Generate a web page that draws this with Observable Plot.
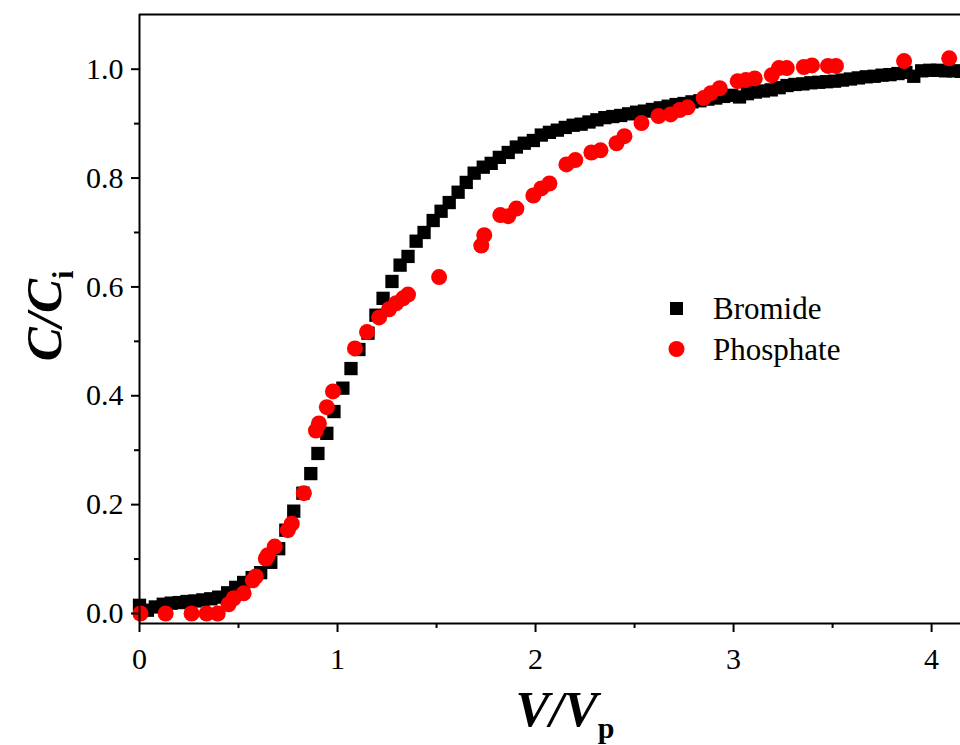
<!DOCTYPE html>
<html><head><meta charset="utf-8">
<script src="https://cdn.jsdelivr.net/npm/d3@7"></script>
<script src="https://cdn.jsdelivr.net/npm/@observablehq/plot@0.6"></script>
<style>
html,body{margin:0;padding:0;background:#fff;}
#chart{width:960px;height:745px;overflow:hidden;}
</style></head><body><div id="chart"></div>
<script>
const seriesNames = ["Bromide", "Phosphate"];
const seriesColors = ["#000000", "#ff0000"];
// [V/Vp, C/Ci]
const bromide = [
[0.00,0.015],[0.04,0.006],[0.08,0.012],[0.12,0.017],[0.16,0.019],[0.20,0.020],[0.24,0.022],[0.28,0.023],
[0.32,0.025],[0.36,0.027],[0.40,0.030],[0.445,0.038],[0.486,0.048],[0.526,0.057],[0.569,0.066],[0.612,0.075],
[0.663,0.094],[0.703,0.119],[0.739,0.153],[0.779,0.188],[0.825,0.221],[0.865,0.257],[0.901,0.294],[0.946,0.331],
[0.982,0.371],[1.027,0.414],[1.068,0.450],[1.108,0.485],[1.154,0.515],[1.194,0.548],[1.230,0.579],[1.275,0.610],
[1.316,0.640],[1.356,0.656],[1.397,0.684],[1.437,0.700],[1.483,0.722],[1.523,0.739],[1.564,0.755],[1.609,0.774],
[1.650,0.792],[1.690,0.809],[1.736,0.820],[1.776,0.827],[1.817,0.838],[1.862,0.847],[1.903,0.857],[1.943,0.864],
[1.989,0.869],[2.029,0.879],[2.070,0.884],[2.11,0.888],[2.15,0.893],[2.19,0.897],[2.23,0.899],[2.27,0.903],
[2.31,0.907],[2.35,0.911],[2.39,0.913],[2.43,0.915],[2.47,0.918],[2.51,0.921],[2.55,0.923],[2.59,0.926],
[2.63,0.929],[2.67,0.932],[2.71,0.935],[2.75,0.937],[2.79,0.940],[2.83,0.942],[2.87,0.945],[2.91,0.947],
[2.95,0.950],[2.99,0.952],[3.03,0.949],[3.07,0.955],[3.11,0.958],[3.15,0.960],[3.19,0.962],[3.23,0.966],
[3.27,0.970],[3.31,0.972],[3.35,0.973],[3.39,0.975],[3.43,0.976],[3.47,0.977],[3.51,0.978],[3.55,0.980],
[3.59,0.982],[3.63,0.984],[3.67,0.986],[3.71,0.987],[3.75,0.989],[3.79,0.990],[3.83,0.992],[3.87,0.994],
[3.91,0.987],[3.95,0.997],[3.99,0.998],[4.03,0.998],[4.07,0.997],[4.11,0.997],[4.15,0.996]
];
const phosphate = [
[0.005,0.000],[0.132,0.000],[0.263,0.000],[0.339,0.000],[0.395,0.000],[0.450,0.017],[0.476,0.028],[0.526,0.037],
[0.572,0.061],[0.587,0.068],[0.638,0.101],[0.648,0.107],[0.683,0.123],[0.749,0.153],[0.769,0.165],[0.830,0.221],
[0.891,0.336],[0.906,0.349],[0.946,0.379],[0.977,0.408],[1.088,0.487],[1.149,0.517],[1.210,0.544],[1.260,0.559],
[1.296,0.570],[1.331,0.579],[1.356,0.586],[1.513,0.618],[1.726,0.676],[1.741,0.695],[1.822,0.732],[1.862,0.730],
[1.903,0.744],[1.989,0.768],[2.029,0.781],[2.070,0.790],[2.156,0.825],[2.201,0.833],[2.282,0.847],[2.328,0.851],
[2.409,0.864],[2.449,0.877],[2.535,0.901],[2.621,0.914],[2.682,0.917],[2.728,0.925],[2.768,0.930],[2.849,0.947],
[2.885,0.956],[2.930,0.965],[3.021,0.978],[3.062,0.980],[3.107,0.983],[3.193,0.989],[3.229,1.002],[3.269,1.002],
[3.355,1.004],[3.396,1.007],[3.477,1.006],[3.517,1.006],[3.861,1.015],[4.089,1.020]
];
const xMajorTicks = [0, 1, 2, 3, 4];
const xMinorTicks = [0.5, 1.5, 2.5, 3.5];
const yMajorTicks = [0, 0.2, 0.4, 0.6, 0.8, 1.0];
const yMinorTicks = [0.1, 0.3, 0.5, 0.7, 0.9];
const xDomain = [0, 4.146];
const yDomain = [-0.0184, 1.1005];

const FONT = '"Liberation Serif","Times New Roman",Times,serif';
const toRows = (arr, s) => arr.map(([x, y]) => ({x, y, series: s}));
const bromideRows = toRows(bromide, seriesNames[0]);
const phosphateRows = toRows(phosphate, seriesNames[1]);

const plot = Plot.plot({
  width: 960, height: 745,
  marginLeft: 139, marginRight: 0, marginTop: 14, marginBottom: 122,
  style: {fontFamily: FONT, background: "white", color: "black", overflow: "hidden"},
  x: {domain: xDomain},
  y: {domain: yDomain},
  marks: [
    Plot.dot(bromideRows, {x: "x", y: "y", symbol: "square", r: 7.5, fill: seriesColors[0]}),
    Plot.dot(phosphateRows, {x: "x", y: "y", symbol: "circle", r: 8, fill: seriesColors[1]}),
    Plot.ruleX([xDomain[0]], {stroke: "black", strokeWidth: 2}),
    Plot.ruleY([yDomain[0]], {stroke: "black", strokeWidth: 2}),
    Plot.ruleY([yDomain[1]], {stroke: "black", strokeWidth: 2}),
    Plot.axisY(yMajorTicks, {tickSize: 8, tickPadding: 8, strokeWidth: 2, tickFormat: d => d.toFixed(1), fontSize: 30, label: null}),
    Plot.axisY(yMinorTicks, {tickSize: 5, strokeWidth: 2, tickFormat: () => "", label: null}),
    Plot.axisX(xMajorTicks, {tickSize: 9, tickPadding: 15, strokeWidth: 2, tickFormat: d => String(d), fontSize: 30, label: null}),
    Plot.axisX(xMinorTicks, {tickSize: 5, strokeWidth: 2, tickFormat: () => "", label: null})
  ]
});
document.getElementById("chart").appendChild(plot);

const svg = d3.select(plot);
// Axis titles
const yt = svg.append("text")
  .attr("transform", "translate(61,316) rotate(-90)")
  .attr("text-anchor", "middle")
  .style("font-family", FONT).style("font-weight", "bold").style("font-size", "51px").attr("fill", "black");
yt.append("tspan").style("font-style", "italic").text("C/C");
yt.append("tspan").attr("dy", 12).style("font-size", "30px").text("i");

const xt = svg.append("text")
  .attr("transform", "translate(565,726)")
  .attr("text-anchor", "middle")
  .style("font-family", FONT).style("font-weight", "bold").style("font-size", "51px").attr("fill", "black");
xt.append("tspan").style("font-style", "italic").text("V/V");
xt.append("tspan").attr("dy", 12).style("font-size", "30px").text("p");

// Legend
const lg = svg.append("g").style("font-family", FONT).style("font-size", "31px").attr("text-anchor", "start");
lg.append("rect").attr("x", 670).attr("y", 302).attr("width", 13).attr("height", 13).attr("fill", seriesColors[0]);
lg.append("text").attr("x", 713).attr("y", 319).attr("text-anchor", "start").attr("fill", "black").text(seriesNames[0]);
lg.append("circle").attr("cx", 676.5).attr("cy", 349).attr("r", 8).attr("fill", seriesColors[1]);
lg.append("text").attr("x", 713).attr("y", 360).attr("text-anchor", "start").attr("fill", "black").text(seriesNames[1]);
</script></body></html>
